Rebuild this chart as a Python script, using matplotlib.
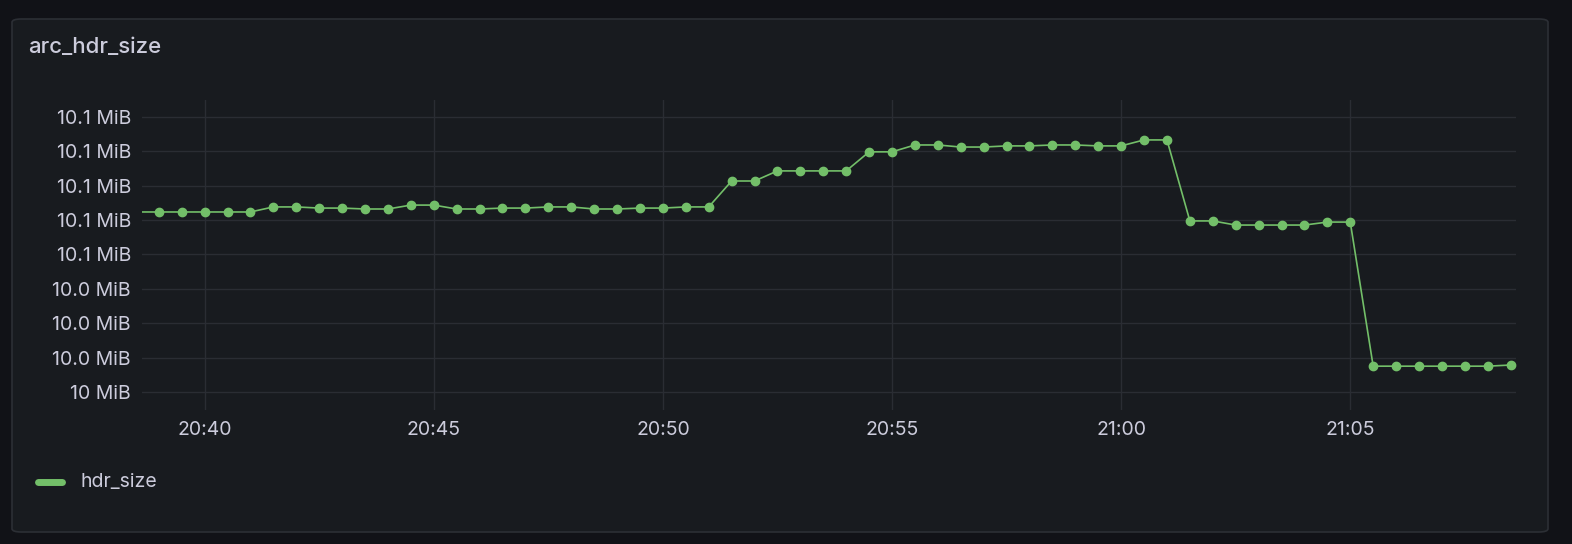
import matplotlib
matplotlib.use("Agg")
import matplotlib.pyplot as plt
import matplotlib.dates as mdates
from matplotlib.patches import FancyBboxPatch
from matplotlib.lines import Line2D
import datetime as dt

# values in MiB, one point every 30 s starting 20:38:30
hdr_size = [10.0785,
            10.0785, 10.0785, 10.0785, 10.0785, 10.0785, 10.0807, 10.0807, 10.0802, 10.0802, 10.0798,
            10.0798, 10.0815, 10.0815, 10.0798, 10.0798, 10.0802, 10.0802, 10.0807, 10.0807, 10.0798,
            10.0798, 10.0802, 10.0802, 10.0807, 10.0807, 10.0920, 10.0920, 10.0964, 10.0964, 10.0964,
            10.0964, 10.1047, 10.1047, 10.1077, 10.1077, 10.1068, 10.1068, 10.1073, 10.1073, 10.1077,
            10.1077, 10.1073, 10.1073, 10.1099, 10.1099, 10.0746, 10.0746, 10.0728, 10.0728, 10.0728,
            10.0728, 10.0741, 10.0741, 10.0113, 10.0113, 10.0113, 10.0113, 10.0113, 10.0113, 10.0118]
start = dt.datetime(2024, 1, 1, 20, 38, 30)
times = [start + dt.timedelta(seconds=30 * i) for i in range(len(hdr_size))]

y_ticks = [10.0, 10.015, 10.03, 10.045, 10.06, 10.075, 10.09, 10.105, 10.12]
y_labels = ["10 MiB", "10.0 MiB", "10.0 MiB", "10.0 MiB", "10.1 MiB",
            "10.1 MiB", "10.1 MiB", "10.1 MiB", "10.1 MiB"]

txt = "#ccccdc"
green = "#73bf69"
plt.rcParams['font.family'] = ['Inter', 'DejaVu Sans']

fig = plt.figure(figsize=(15.72, 5.44), dpi=100)
fig.patch.set_facecolor("#111217")
panel = FancyBboxPatch((12 / 1572, 12 / 544), 1536 / 1572, 513 / 544,
                       boxstyle="round,pad=0,rounding_size=0.006",
                       transform=fig.transFigure, facecolor="#181b1f",
                       edgecolor="#2c2f35", linewidth=1.2, zorder=-10)
fig.patches.append(panel)
fig.text(28 / 1572, 1 - 47 / 544, "arc_hdr_size", color=txt, fontsize=16,
         fontweight="medium", va="center")

ax = fig.add_axes([142 / 1572, 1 - 410 / 544, (1516 - 142) / 1572, 310 / 544], zorder=5)
ax.set_facecolor("#181b1f")
ax.plot(times, hdr_size, color=green, lw=1.2, marker="o", ms=6, clip_on=True)
ax.set_xlim(dt.datetime(2024, 1, 1, 20, 38, 38), dt.datetime(2024, 1, 1, 21, 8, 37))
ax.set_ylim(9.9922, 10.1273)
ax.set_yticks(y_ticks)
ax.set_yticklabels(y_labels)
ax.xaxis.set_major_locator(mdates.MinuteLocator(byminute=range(0, 60, 5)))
ax.xaxis.set_major_formatter(mdates.DateFormatter("%H:%M"))
ax.grid(True, color="#2a2d33", lw=1)
for s in ax.spines.values():
    s.set_visible(False)
ax.tick_params(colors=txt, labelsize=14, length=0, pad=8)

fig.lines.append(Line2D([38 / 1572, 62 / 1572], [1 - 482 / 544] * 2, color=green,
                        lw=5, solid_capstyle="round", transform=fig.transFigure))
fig.text(80 / 1572, 1 - 482 / 544, "hdr_size", color=txt, fontsize=14, va="center")

fig.savefig("out.png", dpi=100, facecolor=fig.get_facecolor())
